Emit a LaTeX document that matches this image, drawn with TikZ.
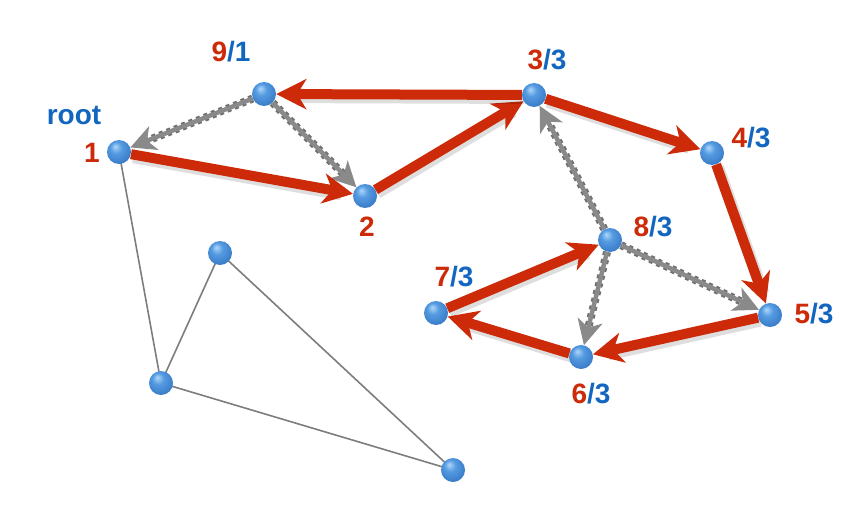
\documentclass[tikz,border=0pt]{standalone}
\usepackage{fontspec}
\setmainfont{Liberation Sans}
\usetikzlibrary{arrows.meta,backgrounds}
\definecolor{tred}{RGB}{204,42,8}
\definecolor{tblue}{RGB}{18,102,192}
\definecolor{nodelight}{RGB}{175,215,250}
\definecolor{nodeblue}{RGB}{85,155,225}
\definecolor{nodedark}{RGB}{40,105,185}
\definecolor{backgray}{RGB}{138,138,138}
\definecolor{dashgray}{RGB}{112,112,112}
\definecolor{plaingray}{RGB}{125,125,125}
\pgfdeclareradialshading{bluesphere}{\pgfpoint{-8bp}{12bp}}{color(0bp)=(nodelight); color(12bp)=(nodeblue); color(40bp)=(nodedark); color(50bp)=(nodedark)}
\begin{document}
\begin{tikzpicture}[x=1pt,y=-1pt,
  vtx/.style={circle,minimum size=24pt,inner sep=0pt,shading=bluesphere},
  treeedge/.style={draw=tred,line width=10pt,-{Stealth[length=30pt,width=30pt,inset=9pt]},
    preaction={draw=black,opacity=0.13,line width=12pt,-,shorten >=14pt,transform canvas={shift={(2pt,-3pt)}}}},
  backedge/.style={draw=backgray,line width=4.5pt,-{Stealth[length=25pt,width=25pt,inset=7pt]},
    preaction={draw=dashgray,line width=8pt,dash pattern=on 4pt off 4pt,-,shorten >=14pt}},
  plainedge/.style={draw=plaingray,line width=1.6pt},
  lbl/.style={font=\fontsize{28}{32}\selectfont\bfseries}]
\useasboundingbox (0,0) rectangle (866,529);
\node[vtx] (n1) at (119,152) {};
\node[vtx] (n9) at (264,94) {};
\node[vtx] (n2) at (365,196) {};
\node[vtx] (n3) at (534,95) {};
\node[vtx] (n4) at (712,153) {};
\node[vtx] (n8) at (610,240) {};
\node[vtx] (n7) at (436,313) {};
\node[vtx] (n5) at (770,315) {};
\node[vtx] (n6) at (581,357) {};
\node[vtx] (a) at (220,253) {};
\node[vtx] (b) at (161,383) {};
\node[vtx] (c) at (453,470) {};
\begin{pgfonlayer}{background}
\draw[plainedge] (n1.center) -- (b.center);
\draw[plainedge] (b.center) -- (a.center);
\draw[plainedge] (a.center) -- (c.center);
\draw[plainedge] (b.center) -- (c.center);
\draw[backedge] (n9) -- (n1);
\draw[backedge] (n9) -- (n2);
\draw[backedge] (n8) -- (n3);
\draw[backedge] (n8) -- (n6);
\draw[backedge] (n8) -- (n5);
\draw[treeedge] (n1) -- (n2);
\draw[treeedge] (n2) -- (n3);
\draw[treeedge] (n3) -- (n9);
\draw[treeedge] (n3) -- (n4);
\draw[treeedge] (n4) -- (n5);
\draw[treeedge] (n5) -- (n6);
\draw[treeedge] (n6) -- (n7);
\draw[treeedge] (n7) -- (n8);
\end{pgfonlayer}
\node[lbl] (l9) at (231,52) {\textcolor{tred}{9}\textcolor{tblue}{/1}};
\node[lbl,text=tblue] (lroot) at (74,116) {root};
\node[lbl,text=tred] (l1) at (92,153) {1};
\node[lbl] (l3) at (547,60) {\textcolor{tred}{3}\textcolor{tblue}{/3}};
\node[lbl] (l4) at (751,138) {\textcolor{tred}{4}\textcolor{tblue}{/3}};
\node[lbl,text=tred] (l2) at (367,227) {2};
\node[lbl] (l8) at (653,227) {\textcolor{tred}{8}\textcolor{tblue}{/3}};
\node[lbl] (l7) at (454,277) {\textcolor{tred}{7}\textcolor{tblue}{/3}};
\node[lbl] (l5) at (814,314) {\textcolor{tred}{5}\textcolor{tblue}{/3}};
\node[lbl] (l6) at (591,394) {\textcolor{tred}{6}\textcolor{tblue}{/3}};
\end{tikzpicture}
\end{document}
